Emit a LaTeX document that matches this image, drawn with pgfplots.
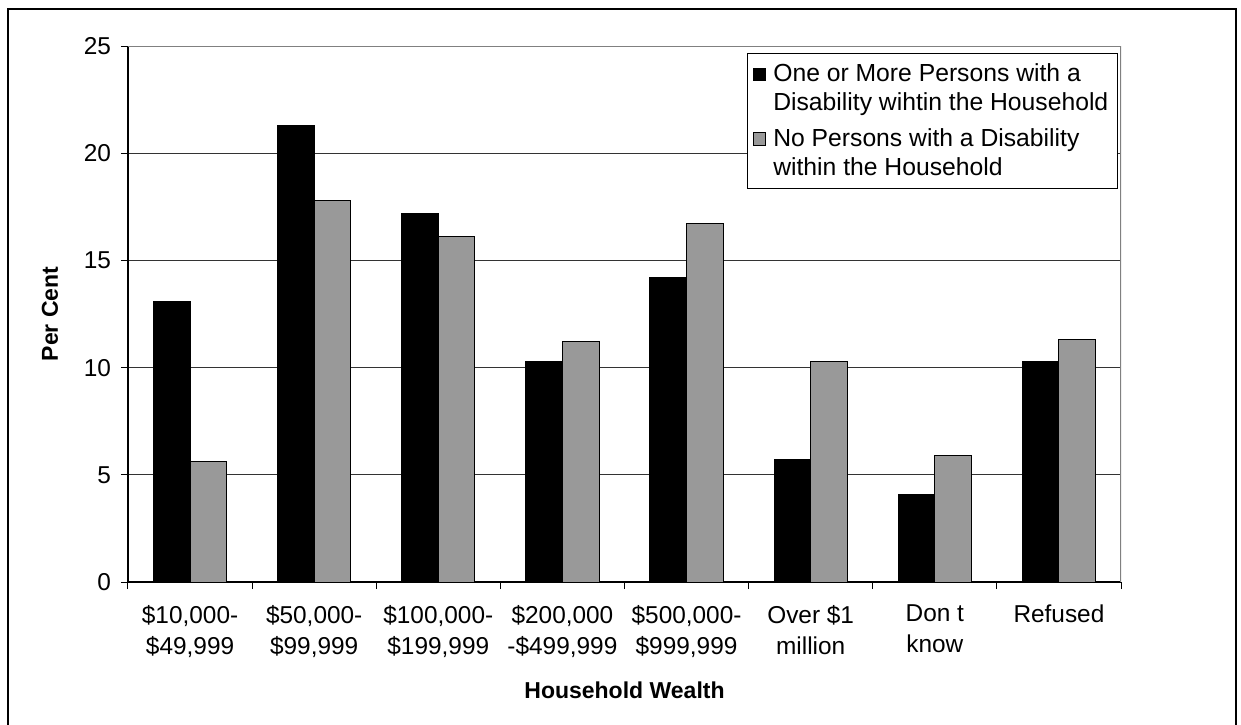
\documentclass[border=0pt]{standalone}
\usepackage{pgfplots}
\pgfplotsset{compat=1.18}
\usepackage{fontspec}
\setmainfont{Liberation Sans}
\definecolor{bargray}{HTML}{999999}
\begin{document}
\begin{tikzpicture}
\useasboundingbox (-64pt,-71pt) rectangle (556.5pt,291pt);
\fill[white] (-64pt,-71pt) rectangle (556.5pt,291pt);
\draw[line width=1.3pt] (-60pt,-80pt) -- (-60pt,286.5pt) -- (554pt,286.5pt) -- (554pt,-80pt);
\begin{axis}[
  at={(0pt,0pt)}, anchor=south west,
  scale only axis, width=496.5pt, height=268pt,
  xmin=-0.5, xmax=7.5, ymin=0, ymax=25,
  ytick={0,5,10,15,20,25},
  xtick={0,...,7},
  xticklabels={{\$10,000-\\\$49,999},{\$50,000-\\\$99,999},{\$100,000-\\\$199,999},{\$200,000\\-\$499,999},{\$500,000-\\\$999,999},{Over \$1\\million},{Don t\\know},{Refused}},
  major x tick style={draw=none},
  minor xtick={-0.5,0.5,...,7.5},
  minor tick length=3.5pt,
  major tick length=3.5pt,
  tick align=outside,
  tick style={black, line width=0.5pt},
  axis x line*=bottom, axis y line*=left,
  axis line style={-, black, line width=0.6pt},
  ymajorgrids, grid style={black!80, line width=0.5pt},
  /pgf/number format/assume math mode=true,
  ticklabel style={font=\fontsize{12.2}{15.5}\selectfont},
  xticklabel style={align=center, yshift=-4.5pt},
  yticklabel style={xshift=-1.5pt},
  xlabel={\bfseries Household Wealth},
  ylabel={\bfseries Per Cent},
  label style={font=\fontsize{11.5}{14}\selectfont},
  xlabel style={at={(axis description cs:0.5,0)}, anchor=center, yshift=-54pt},
  ylabel style={at={(axis description cs:-0.0786,0.5)}, anchor=center},
  ybar=0pt, bar width=18.3pt,
  legend image code/.code={\draw[#1, line width=0.4pt] (0pt,4.0pt) rectangle (6.2pt,10.2pt);},
  legend cell align=left,
  legend style={at={(rel axis cs:1,1)}, anchor=north east, xshift=-1.6pt, yshift=-3.6pt,
    draw=black, line width=0.5pt, fill=white,
    font=\fontsize{12.35}{14.4}\selectfont,
    inner xsep=2.5pt, inner ysep=3pt, row sep=3.5pt,
    cells={align=left},
    nodes={inner xsep=2pt},
    /tikz/every odd column/.append style={column sep=1.8pt}},
]
\addplot[fill=black, draw=black, line width=0.5pt] coordinates {
 (0,13.1) (1,21.3) (2,17.2) (3,10.3) (4,14.2) (5,5.7) (6,4.1) (7,10.3)};
\addplot[fill=bargray, draw=black, line width=0.5pt] coordinates {
 (0,5.6) (1,17.8) (2,16.1) (3,11.2) (4,16.7) (5,10.3) (6,5.9) (7,11.3)};
\addlegendentry{One or More Persons with a\\Disability wihtin the Household}
\addlegendentry{No Persons with a Disability\\within the Household}
\draw[gray, line width=0.6pt] (rel axis cs:0,1) -- (rel axis cs:1,1) -- (rel axis cs:1,0);
\end{axis}
\end{tikzpicture}
\end{document}
